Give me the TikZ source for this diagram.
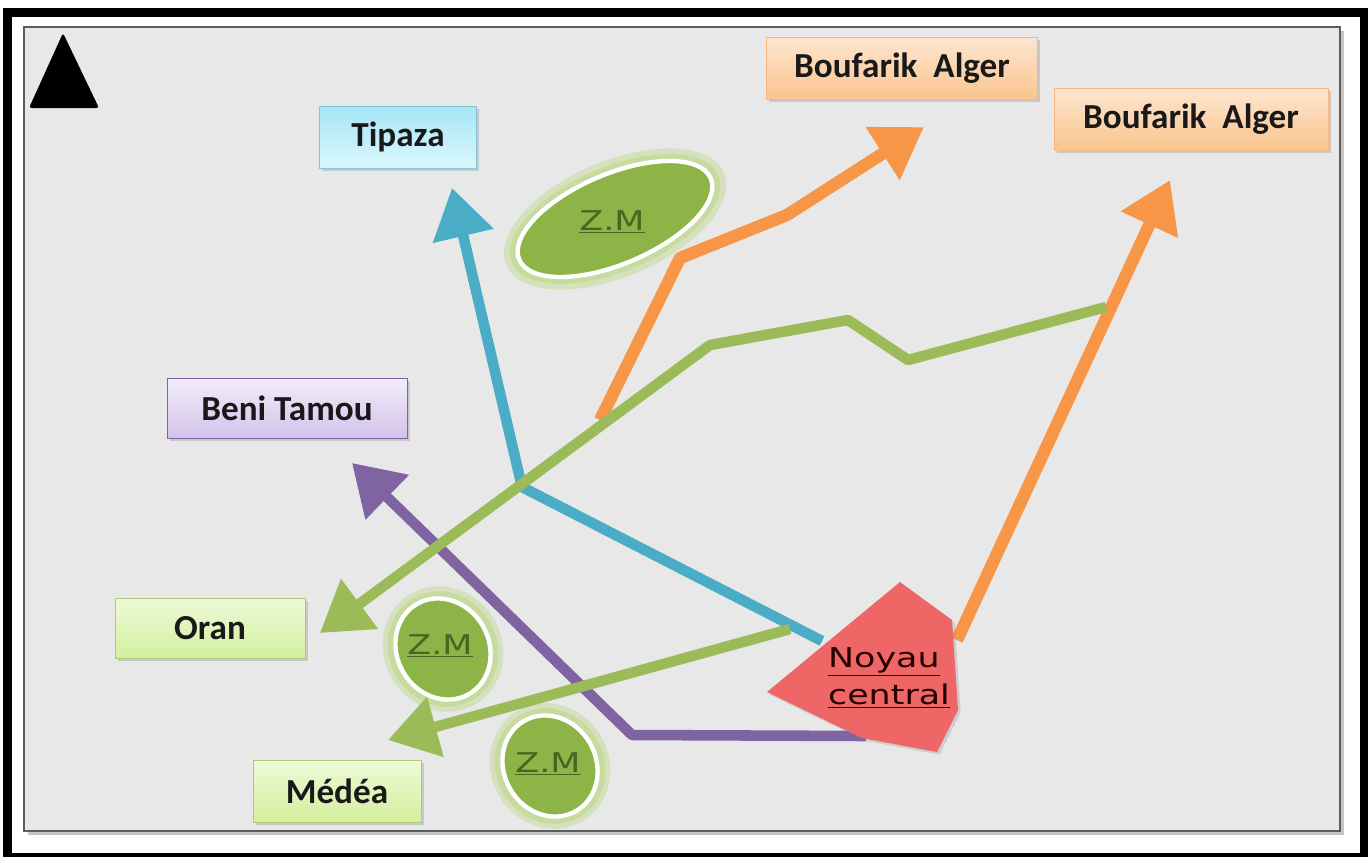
\documentclass[tikz,border=0pt]{standalone}
\usepackage{fontspec}
\setmainfont{Carlito}
\newfontfamily\zmfont[FakeStretch=1.28]{DejaVu Sans}
\usetikzlibrary{arrows.meta,shadows}

\definecolor{panelfill}{HTML}{E8E8E8}
\definecolor{panelline}{HTML}{5C5C5C}
\definecolor{cyanline}{HTML}{4BACC6}
\definecolor{orangeline}{HTML}{F79646}
\definecolor{greenline}{HTML}{9BBB59}
\definecolor{purpleline}{HTML}{8064A2}
\definecolor{noyaured}{HTML}{EE6666}
\definecolor{zmfill}{HTML}{8CB446}
\definecolor{zmglow}{HTML}{B2D26A}
\definecolor{zmtext}{HTML}{4A6424}
\definecolor{tiptop}{HTML}{A6E6F5}
\definecolor{tipbot}{HTML}{DAF7FC}
\definecolor{algtop}{HTML}{FDE6D0}
\definecolor{algbot}{HTML}{FAC48E}
\definecolor{benitop}{HTML}{F3EDFA}
\definecolor{benibot}{HTML}{D2C2EA}
\definecolor{orantop}{HTML}{EEFAD8}
\definecolor{oranbot}{HTML}{D3EF9E}

\tikzset{
  city/.style={draw, text=black!90, font=\bfseries\fontsize{20}{24}\selectfont,
    minimum height=1.24cm, drop shadow={opacity=0.3,shadow xshift=1.5pt,shadow yshift=-1.5pt}},
  tipazabox/.style={city, draw=cyanline!70, top color=tiptop, bottom color=tipbot},
  algerbox/.style={city, draw=orangeline!70, top color=algtop, bottom color=algbot},
  benibox/.style={city, draw=purpleline, top color=benitop, bottom color=benibot},
  oranbox/.style={city, draw=greenline!80, top color=orantop, bottom color=oranbot},
  road/.style={line width=6pt, line join=round, -{Triangle[length=28pt,width=34pt]}},
  zmring/.style={draw=white, line width=2.5pt, fill=zmfill},
  zmglowing/.style={fill=zmglow, opacity=0.35},
  zmlabel/.style={text=zmtext, font=\zmfont\fontsize{15.5}{18}\selectfont},
}

\begin{document}
\begin{tikzpicture}[x=0.02cm,y=-0.02cm]
\useasboundingbox (0,0) rectangle (1372,856);
\fill[white] (0,0) rectangle (1372,856);
\draw[line width=4.6pt] (7.5,12.5) rectangle (1364,857);
\filldraw[fill=panelfill, draw=panelline, line width=1.3pt,
  drop shadow={opacity=0.45,shadow xshift=2pt,shadow yshift=-2pt}] (24,27) rectangle (1340,831);
\fill[black, rounded corners=1.5pt] (63,33) -- (99,108) -- (29,108) -- cycle;

\node [tipazabox, minimum width=3.14cm] (tipaza) at (398,137) {Tipaza};
\node [algerbox, minimum width=5.42cm] (alger1) at (902,68) {Boufarik\ \ Alger};
\node [algerbox, minimum width=5.48cm] (alger2) at (1191,119) {Boufarik\ \ Alger};
\node [benibox, minimum width=4.8cm, minimum height=1.2cm] (beni) at (287,408) {Beni Tamou};
\node [oranbox, minimum width=3.8cm, minimum height=1.2cm] (oran) at (210,628) {Oran};
\node [oranbox, minimum width=3.36cm] (medea) at (337,791) {Médéa};

\fill[zmglowing] (615,219) ellipse [x radius=118, y radius=58, rotate=23];
\fill[zmglowing] (615,219) ellipse [x radius=112, y radius=52, rotate=23];
\filldraw[zmring] (615,219) ellipse [x radius=104, y radius=45, rotate=23];
\node [zmlabel] (zm1) at (612,222) {\underline{Z.M}};
\fill[zmglowing] (443,649) ellipse [x radius=64, y radius=59, rotate=-60];
\fill[zmglowing] (443,649) ellipse [x radius=59, y radius=54, rotate=-60];
\filldraw[zmring] (443,649) ellipse [x radius=52, y radius=46, rotate=-60];
\node [zmlabel] (zm2) at (440,646) {\underline{Z.M}};
\fill[zmglowing] (550,766) ellipse [x radius=64, y radius=59, rotate=-60];
\fill[zmglowing] (550,766) ellipse [x radius=59, y radius=54, rotate=-60];
\filldraw[zmring] (550,766) ellipse [x radius=52, y radius=46, rotate=-60];
\node [zmlabel] (zm3) at (548,764) {\underline{Z.M}};

\coordinate (n-west) at (822,641);
\coordinate (n-south) at (866,736);
\coordinate (n-left) at (790,629);
\coordinate (n-east) at (957,640);
\coordinate (tipaza-tip) at (452,188);
\coordinate (beni-tip) at (352,463);
\coordinate (oran-tip) at (320,633);
\coordinate (medea-tip) at (388,740);
\coordinate (alger1-tip) at (924,127);
\coordinate (alger2-tip) at (1170,180);
\coordinate (fork) at (600,420);
\coordinate (east-end) at (1106,307);

\draw[road, cyanline] (n-west) -- (522,487) -- (tipaza-tip);
\draw[road, purpleline] (n-south) -- (632,735) -- (beni-tip);
\draw[road, orangeline, line width=7pt] (fork) -- (680,258) -- (787,215) -- (alger1-tip);
\draw[road, orangeline, line width=7pt] (n-east) -- (alger2-tip);
\draw[road, greenline] (east-end) -- (908,360) -- (848,320) -- (710,345) -- (oran-tip);
\draw[road, greenline] (n-left) -- (medea-tip);

\fill[noyaured, drop shadow={opacity=0.25,shadow xshift=1.5pt,shadow yshift=-1.5pt}]
  (900,582) -- (952,620) -- (958,710) -- (937,752) -- (862,738) -- (767,692) -- cycle;
\node [align=left, text=red!15!black, inner sep=0pt,
  font=\zmfont\fontsize{15.5}{21.5}\selectfont] (noyau) at (889,678) {\underline{Noyau}\\\underline{central}};
\end{tikzpicture}
\end{document}
